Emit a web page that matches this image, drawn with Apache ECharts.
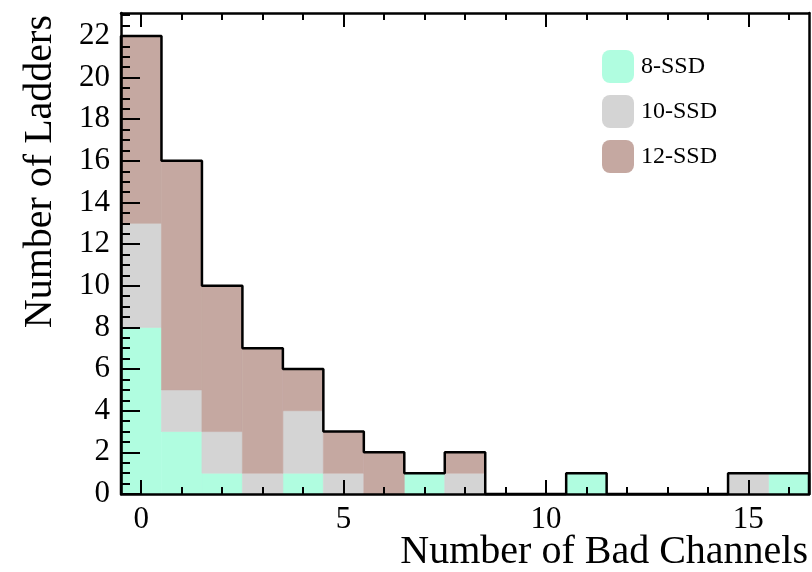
<!DOCTYPE html>
<html>
<head>
<meta charset="utf-8">
<script src="https://cdn.jsdelivr.net/npm/echarts@6/dist/echarts.min.js"></script>
<style>html,body{margin:0;padding:0;background:#fff}#c{width:812px;height:572px}</style>
</head>
<body>
<div id="c"></div>
<script>
// bins: number of bad channels (bin centres)
const bins = [0,1,2,3,4,5,6,7,8,9,10,11,12,13,14,15,16];
const ssd8  = [8,3,1,0,1,0,0,1,0,0,0,1,0,0,0,0,1];
const ssd10 = [5,2,2,1,3,1,0,0,1,0,0,0,0,0,0,1,0];
const ssd12 = [9,11,7,6,2,2,2,0,1,0,0,0,0,0,0,0,0];
const seriesNames = ['8-SSD','10-SSD','12-SSD'];
const xTickLabels = [0,5,10,15];
const yTickLabels = [0,2,4,6,8,10,12,14,16,18,20,22];
const xTitle = 'Number of Bad Channels';
const yTitle = 'Number of Ladders';

const colors = ['#b0fde0','#d4d4d4','#c5a8a1'];
const FONT = 'Liberation Serif';
const groups = [ssd8, ssd10, ssd12];

// stacked ranges
const base = bins.map(() => 0);
const stackedData = groups.map(vals => {
  const out = [];
  bins.forEach((b, i) => {
    if (vals[i] > 0) out.push([b, base[i], base[i] + vals[i]]);
    base[i] += vals[i];
  });
  return out;
});
const totals = base.slice();
// outline (step) built from totals
const outline = [[bins[0]-0.5, 0]];
bins.forEach((b, i) => outline.push([b-0.5, totals[i]]));
outline.push([bins[bins.length-1]+0.5, totals[totals.length-1]]);
outline.push([bins[bins.length-1]+0.5, 0]);

const minorX = bins.slice();
const minorY = [];
for (let v = 0; v <= 23; v += 0.5) minorY.push(v);

function makeRender(color) {
  return function (params, api) {
    const x = api.value(0), lo = api.value(1), hi = api.value(2);
    const p0 = api.coord([x - 0.5, hi]);
    const p1 = api.coord([x + 0.5, lo]);
    return {
      type: 'rect',
      shape: {x: p0[0], y: p0[1], width: p1[0] - p0[0], height: p1[1] - p0[1]},
      style: {fill: color, stroke: color, lineWidth: 0.6}
    };
  };
}

const axisLine = {show: true, onZero: false, lineStyle: {color: '#000', width: 2.5}};
const noLine = {show: false, onZero: false};
const xCommon = {type: 'value', min: -0.5, max: 16.5, splitLine: {show: false}, z: 10};
const yCommon = {type: 'value', min: 0, max: 23.1, splitLine: {show: false}, z: 10};

const chart = echarts.init(document.getElementById('c'), null, {renderer: 'canvas'});
chart.setOption({
  animation: false,
  backgroundColor: '#fff',
  textStyle: {fontFamily: FONT},
  grid: {left: 121, right: 3, top: 13, bottom: 78, containLabel: false, outerBoundsMode: 'none'},
  legend: {
    orient: 'vertical', left: 602, top: 50, padding: 0,
    itemWidth: 32, itemHeight: 33, itemGap: 12,
    icon: 'roundRect', selectedMode: false,
    data: seriesNames,
    textStyle: {fontFamily: FONT, fontSize: 24, color: '#000', padding: [5,0,0,2]}
  },
  graphic: [
    {type: 'text', x: 808, y: 552, z: 20,
     style: {text: xTitle, font: '40px "Liberation Serif"', fill: '#000',
             textAlign: 'right', textVerticalAlign: 'middle', align: 'right', verticalAlign: 'middle'}},
    {type: 'text', x: 40, y: 15, rotation: Math.PI / 2, z: 20,
     style: {text: yTitle, font: '40px "Liberation Serif"', fill: '#000',
             textAlign: 'right', textVerticalAlign: 'middle', align: 'right', verticalAlign: 'middle'}}
  ],
  xAxis: [
    Object.assign({}, xCommon, {
      position: 'bottom', axisLine,
      axisTick: {show: true, inside: true, length: 14, customValues: xTickLabels, lineStyle: {color: '#000', width: 2}},
      axisLabel: {show: true, customValues: xTickLabels, fontSize: 31, color: '#000', fontFamily: FONT, margin: 10}
    }),
    Object.assign({}, xCommon, {
      position: 'bottom', axisLine: noLine,
      axisTick: {show: true, inside: true, length: 7, customValues: minorX, lineStyle: {color: '#000', width: 2}},
      axisLabel: {show: false}
    }),
    Object.assign({}, xCommon, {
      position: 'top', axisLine,
      axisTick: {show: true, inside: true, length: 14, customValues: xTickLabels, lineStyle: {color: '#000', width: 2}},
      axisLabel: {show: false}
    }),
    Object.assign({}, xCommon, {
      position: 'top', axisLine: noLine,
      axisTick: {show: true, inside: true, length: 7, customValues: minorX, lineStyle: {color: '#000', width: 2}},
      axisLabel: {show: false}
    })
  ],
  yAxis: [
    Object.assign({}, yCommon, {
      position: 'left', axisLine,
      axisTick: {show: true, inside: true, length: 19, customValues: yTickLabels, lineStyle: {color: '#000', width: 2}},
      axisLabel: {show: true, customValues: yTickLabels, fontSize: 31, color: '#000', fontFamily: FONT, margin: 11}
    }),
    Object.assign({}, yCommon, {
      position: 'left', axisLine: noLine,
      axisTick: {show: true, inside: true, length: 9, customValues: minorY, lineStyle: {color: '#000', width: 2}},
      axisLabel: {show: false}
    }),
    Object.assign({}, yCommon, {
      position: 'right', axisLine,
      axisTick: {show: false}, axisLabel: {show: false}
    })
  ],
  series: seriesNames.map((name, k) => ({
    name, type: 'custom', xAxisIndex: 0, yAxisIndex: 0,
    itemStyle: {color: colors[k]},
    encode: {x: 0, y: [1, 2]},
    renderItem: makeRender(colors[k]),
    data: stackedData[k], z: 2
  })).concat([{
    name: 'total', type: 'line', xAxisIndex: 0, yAxisIndex: 0,
    step: 'end', symbol: 'none', data: outline, z: 5, clip: false,
    lineStyle: {color: '#000', width: 2.5}, silent: true
  }])
});
</script>
</body>
</html>
